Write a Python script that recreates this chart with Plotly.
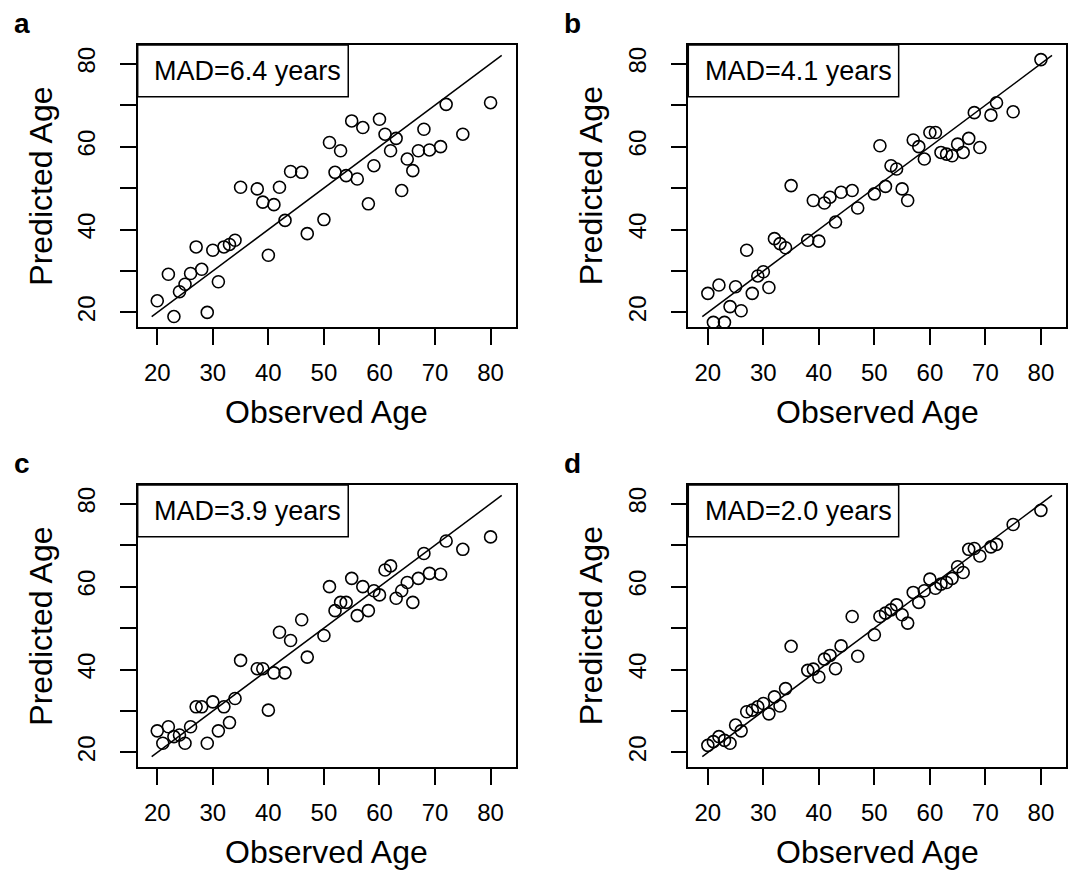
import plotly.graph_objects as go

# ---------------- data ----------------
observed = [20, 21, 22, 23, 24, 25, 26, 27, 28, 29, 30, 31, 32, 33, 34, 35,
            38, 39, 40, 41, 42, 43, 44, 46, 47, 50, 51, 52, 53, 54, 55, 56,
            57, 58, 59, 60, 61, 62, 63, 64, 65, 66, 67, 68, 69, 71, 72, 75, 80]
observed_a = [20, 22, 23, 24, 25, 26, 27, 28, 29, 30, 31, 32, 33, 34, 35,
              38, 39, 40, 41, 42, 43, 44, 46, 47, 50, 51, 52, 53, 54, 55, 56,
              57, 58, 59, 60, 61, 62, 63, 64, 65, 66, 67, 68, 69, 71, 72, 75, 80]
predicted_a = [22.8, 29.2, 19.0, 25.0, 26.8, 29.4, 35.8, 30.4, 20.0, 35.0, 27.4, 35.8,
               36.4, 37.4, 50.2, 49.8, 46.6, 33.8, 46.0, 50.2, 42.2, 54.0, 53.8, 39.0,
               42.4, 61.0, 53.8, 59.0, 53.0, 66.2, 52.2, 64.6, 46.2, 55.4, 66.6, 63.0,
               59.0, 62.0, 49.4, 57.0, 54.2, 59.0, 64.2, 59.2, 60.0, 70.2, 63.0, 70.6]
predicted_b = [24.6, 17.6, 26.6, 17.6, 21.4, 26.2, 20.4, 35.0, 24.6, 28.8, 29.8, 26.0,
               37.8, 36.6, 35.6, 50.6, 37.4, 47.0, 37.2, 46.4, 47.8, 41.8, 49.0, 49.4,
               45.2, 48.6, 60.2, 50.4, 55.4, 54.6, 49.8, 47.0, 61.6, 60.0, 57.0, 63.4,
               63.4, 58.6, 58.2, 57.8, 60.6, 58.6, 62.0, 68.2, 59.8, 67.6, 70.6, 68.4, 81.0]
predicted_c = [25.2, 22.2, 26.2, 23.8, 24.2, 22.2, 26.2, 31.0, 31.0, 22.2, 32.2, 25.2,
               31.0, 27.2, 33.0, 42.2, 40.2, 40.2, 30.2, 39.2, 49.0, 39.2, 47.0, 52.0,
               43.0, 48.2, 60.0, 54.2, 56.2, 56.2, 62.0, 53.0, 60.0, 54.2, 59.0, 58.0,
               64.0, 65.0, 57.2, 59.0, 61.0, 56.2, 62.0, 68.0, 63.2, 63.0, 71.0, 69.0, 72.0]
predicted_d = [21.7, 22.6, 23.8, 22.9, 22.2, 26.6, 25.2, 29.8, 30.2, 31.0, 31.8, 29.3,
               33.4, 31.2, 35.4, 45.6, 39.8, 40.1, 38.2, 42.5, 43.4, 40.2, 45.7, 52.8,
               43.2, 48.4, 52.8, 53.6, 54.4, 55.6, 53.2, 51.2, 58.6, 56.2, 59.0, 61.8,
               59.6, 60.6, 61.0, 62.0, 64.8, 63.4, 69.0, 69.2, 67.4, 69.6, 70.2, 75.0, 78.4]
panel_letters = ["a", "b", "c", "d"]
mad_labels = ["MAD=6.4 years", "MAD=4.1 years", "MAD=3.9 years", "MAD=2.0 years"]
identity_line = [19, 82]
tick_values = [20, 30, 40, 50, 60, 70, 80]
x_tick_text = ["20", "30", "40", "50", "60", "70", "80"]
y_tick_text = ["20", "", "40", "", "60", "", "80"]
axis_range = [16.48, 84.52]

# ---------------- layout geometry ----------------
W, H = 1072, 871
col_px = [(137.7, 515.7), (688.3, 1066.0)]
row_px = [(45.0, 327.0), (485.0, 767.0)]

fig = go.Figure()
series = [(observed_a, predicted_a), (observed, predicted_b),
          (observed, predicted_c), (observed, predicted_d)]

FONT = "Liberation Sans, Arial, sans-serif"

for i in range(4):
    r, c = divmod(i, 2)
    n = i + 1
    xa = "x" if n == 1 else f"x{n}"
    ya = "y" if n == 1 else f"y{n}"
    obs, pred = series[i]
    fig.add_trace(go.Scatter(
        x=obs, y=pred, mode="markers", xaxis=xa, yaxis=ya,
        marker=dict(symbol="circle-open", size=12, color="black",
                    line=dict(width=1.6, color="black")),
        showlegend=False, hoverinfo="x+y"))
    fig.add_trace(go.Scatter(
        x=identity_line, y=identity_line, mode="lines", xaxis=xa, yaxis=ya,
        line=dict(color="black", width=1.5), showlegend=False, hoverinfo="skip"))

    x0, x1 = col_px[c]
    y0, y1 = row_px[r]
    axis_common = dict(
        range=axis_range, showgrid=False, zeroline=False,
        showline=True, linecolor="black", linewidth=1.5, mirror=True,
        ticks="outside", ticklen=16, tickwidth=1.5, tickcolor="black",
        tickvals=tick_values,
        tickfont=dict(family=FONT, size=24, color="black"))
    fig.layout[("xaxis" if n == 1 else f"xaxis{n}")] = dict(
        axis_common, domain=[x0 / W, x1 / W], anchor=ya,
        ticktext=x_tick_text, ticklabelstandoff=7)
    fig.layout[("yaxis" if n == 1 else f"yaxis{n}")] = dict(
        axis_common, domain=[1 - y1 / H, 1 - y0 / H], anchor=xa,
        ticktext=y_tick_text, tickangle=-90, ticklabelstandoff=15)

    # MAD legend box
    fig.add_shape(type="rect", xref=f"{xa} domain", yref=f"{ya} domain",
                  x0=0, x1=0.557, y0=0.8167, y1=1.0,
                  line=dict(color="black", width=1.5), fillcolor="white", layer="above")
    fig.add_annotation(text=mad_labels[i], xref=f"{xa} domain", yref=f"{ya} domain",
                       x=0.038, y=0.908, xanchor="left", yanchor="middle",
                       showarrow=False, font=dict(family=FONT, size=27, color="black"))

    # axis titles
    fig.add_annotation(text="Observed Age", xref="paper", yref="paper",
                       x=(x0 + x1) / 2 / W, y=1 - (y1 + 85) / H,
                       xanchor="center", yanchor="middle", showarrow=False,
                       font=dict(family=FONT, size=32, color="black"))
    fig.add_annotation(text="Predicted Age", xref="paper", yref="paper",
                       x=(x0 - 97) / W, y=1 - (y0 + y1) / 2 / H, textangle=-90,
                       xanchor="center", yanchor="middle", showarrow=False,
                       font=dict(family=FONT, size=32, color="black"))
    # panel letter
    fig.add_annotation(text=f"<b>{panel_letters[i]}</b>", xref="paper", yref="paper",
                       x=(x0 - 126) / W, y=1 - (y0 - 22) / H,
                       xanchor="left", yanchor="middle", showarrow=False,
                       font=dict(family=FONT, size=28, color="black"))

fig.update_layout(width=W, height=H, margin=dict(l=0, r=0, t=0, b=0),
                  paper_bgcolor="white", plot_bgcolor="white")
fig.write_html("out.html")
